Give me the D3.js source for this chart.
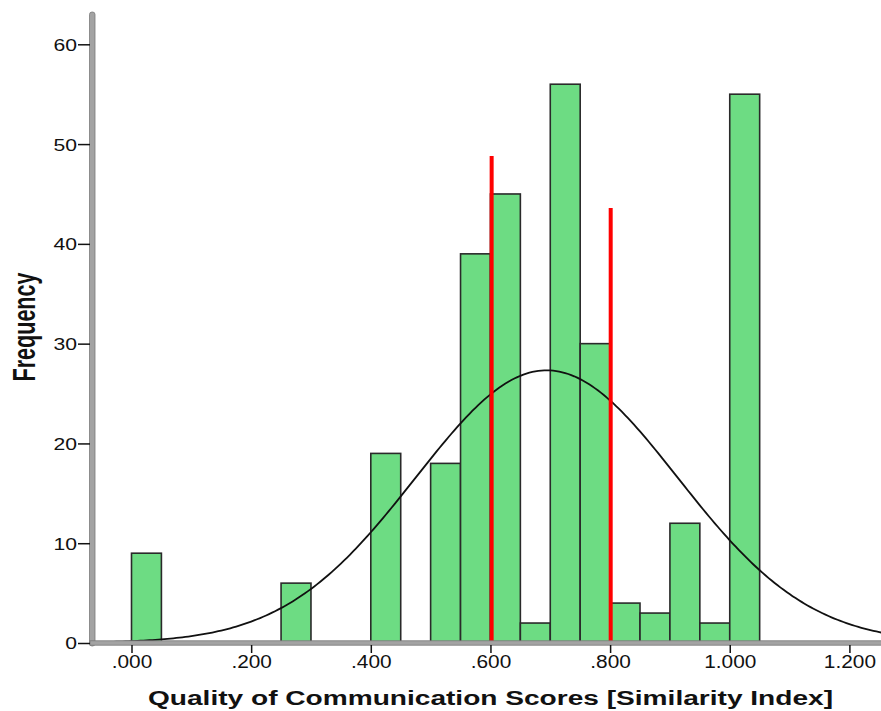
<!DOCTYPE html>
<html><head><meta charset="utf-8">
<script src="https://cdn.jsdelivr.net/npm/d3@7"></script>
<style>body{margin:0;background:#fff}svg{display:block}text{font-family:"Liberation Sans",Arial,sans-serif;fill:#111}</style>
</head><body><svg id="c" width="881" height="711"></svg>
<script>
const binStarts = [0.00,0.25,0.40,0.50,0.55,0.60,0.65,0.70,0.75,0.80,0.85,0.90,0.95,1.00];
const counts    = [9,   6,   19,  18,  39,  45,  2,   56,  30,  4,   3,   12,  2,   55];
const binWidth = 0.05;
const xTicks = [0,0.2,0.4,0.6,0.8,1.0,1.2];
const xTickLabels = [".000",".200",".400",".600",".800","1.000","1.200"];
const yTicks = [0,10,20,30,40,50,60];
const refX = [0.602,0.801];
const refTop = [48.8,43.6];
const normalMean = 0.694, normalSD = 0.219, nTotal = 300;

const svg = d3.select("#c");
const x = d3.scaleLinear().domain([0,1.2]).range([131.5,849.4]);
const y = d3.scaleLinear().domain([0,60]).range([643,44.3]);

// bars
svg.append("g").selectAll("rect").data(binStarts).join("rect")
  .attr("x",(d)=>x(d)).attr("width",(d)=>x(d+binWidth)-x(d))
  .attr("y",(d,i)=>y(counts[i])).attr("height",(d,i)=>y(0)-y(counts[i]))
  .attr("fill","#6ddc83").attr("stroke","#2a2a2a").attr("stroke-width",1.6);

// normal curve
const cx = d3.range(-0.06,1.26,0.005);
const dens = v => nTotal*binWidth/(normalSD*Math.sqrt(2*Math.PI))*Math.exp(-0.5*((v-normalMean)/normalSD)**2);
svg.append("clipPath").attr("id","pc").append("rect").attr("x",95).attr("y",0).attr("width",786).attr("height",645);
svg.append("path").attr("clip-path","url(#pc)")
  .attr("d",d3.line().x(v=>x(v)).y(v=>y(dens(v)))(cx))
  .attr("fill","none").attr("stroke","#111").attr("stroke-width",1.8);

// reference lines
svg.append("g").selectAll("line").data(refX).join("line")
  .attr("x1",d=>x(d)).attr("x2",d=>x(d)).attr("y1",(d,i)=>y(refTop[i])).attr("y2",y(0))
  .attr("stroke","#ff0000").attr("stroke-width",4);

// axes lines (gray thick)
svg.append("rect").attr("x",89.5).attr("y",12).attr("width",5.5).attr("height",634).attr("rx",2.5)
  .attr("fill","#a3a3a3").attr("stroke","#7a7a7a").attr("stroke-width",0.8);
svg.append("rect").attr("x",90).attr("y",640.8).attr("width",800).attr("height",4.4)
  .attr("fill","#a3a3a3").attr("stroke","#7a7a7a").attr("stroke-width",0.8);

// y axis ticks & labels
const yAxis = d3.axisLeft(y).tickValues(yTicks).tickSize(12).tickPadding(1).tickFormat(d3.format("d"));
const ga = svg.append("g").attr("transform","translate(90,0)").call(yAxis);
ga.select(".domain").remove();
ga.selectAll(".tick line").attr("stroke","#111").attr("stroke-width",1.5);
ga.selectAll(".tick text").attr("font-size","16.5px").attr("fill","#222")
  .style("font-family","Liberation Sans, Arial, sans-serif").attr("dy","0.36em")
  .each(function(){const w=this.getComputedTextLength();d3.select(this).attr("textLength",w*1.28).attr("lengthAdjust","spacingAndGlyphs");});

// x axis ticks & labels
const xAxis = d3.axisBottom(x).tickValues(xTicks).tickSize(8).tickPadding(3).tickFormat((d,i)=>xTickLabels[i]);
const gx = svg.append("g").attr("transform","translate(0,645)").call(xAxis);
gx.select(".domain").remove();
gx.selectAll(".tick line").attr("stroke","#111").attr("stroke-width",1.5);
gx.selectAll(".tick text").attr("font-size","17.5px").attr("fill","#222")
  .style("font-family","Liberation Sans, Arial, sans-serif")
  .each(function(){const w=this.getComputedTextLength();d3.select(this).attr("textLength",w*1.19).attr("lengthAdjust","spacingAndGlyphs");});

// titles
svg.append("text").attr("x",490.5).attr("y",705).attr("text-anchor","middle")
  .attr("font-size","20px").attr("font-weight","bold").attr("textLength",685).attr("lengthAdjust","spacingAndGlyphs")
  .text("Quality of Communication Scores [Similarity Index]");
svg.append("g").attr("transform","translate(35,327) scale(1.5,1) rotate(-90)")
  .append("text").attr("x",0).attr("y",0).attr("text-anchor","middle")
  .attr("font-size","21px").attr("font-weight","bold").attr("textLength",109).attr("lengthAdjust","spacingAndGlyphs")
  .text("Frequency");
</script></body></html>
